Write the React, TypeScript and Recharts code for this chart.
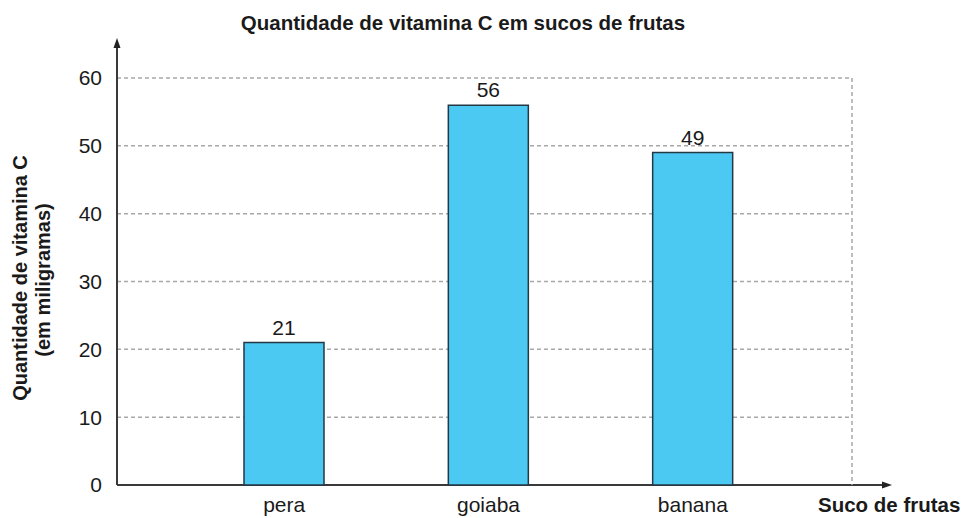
import { Bar, BarChart, CartesianGrid, LabelList, XAxis, YAxis } from "recharts";

const sucos = ["pera", "goiaba", "banana"];
const vitaminaC = [21, 56, 49];
const yTicks = [0, 10, 20, 30, 40, 50, 60];

const data = sucos.map((suco, i) => ({ suco, valor: vitaminaC[i] }));

const FONT = "'Liberation Sans', Arial, sans-serif";
const W = 969;
const H = 518;
// margens escolhidas para a area do grafico ficar entre x 117..852 e y 78..485
const LEFT = 117;
const RIGHT = 852;
const TOP = 78;
const BOTTOM = 485;
const TXT = "#1a1a1a";

// eixos com setas e textos que ficam fora da area do grafico
function Extras() {
  return (
    <g>
      <line x1={LEFT} y1={BOTTOM} x2={LEFT} y2={46} stroke="#3a3a3a" strokeWidth={2} />
      <polygon points={`${LEFT - 3.5},48 ${LEFT + 3.5},48 ${LEFT},38`} fill="#222" />
      <line x1={LEFT} y1={BOTTOM} x2={884} y2={BOTTOM} stroke="#3a3a3a" strokeWidth={2} />
      <polygon points={`882,${BOTTOM - 3.5} 882,${BOTTOM + 3.5} 892,${BOTTOM}`} fill="#222" />
      <text
        x={0}
        y={0}
        fontFamily={FONT}
        fontWeight="bold"
        fontSize={20}
        fill={TXT}
        textAnchor="middle"
        transform="translate(27, 278) rotate(-90)"
      >
        Quantidade de vitamina C
      </text>
      <text
        x={0}
        y={0}
        fontFamily={FONT}
        fontWeight="bold"
        fontSize={20}
        fill={TXT}
        textAnchor="middle"
        transform="translate(50, 280) rotate(-90)"
      >
        (em miligramas)
      </text>
      <text x={818} y={512} fontFamily={FONT} fontWeight="bold" fontSize={20.5} fill={TXT}>
        Suco de frutas
      </text>
      <text
        x={463}
        y={30}
        fontFamily={FONT}
        fontWeight="bold"
        fontSize={20.5}
        fill={TXT}
        textAnchor="middle"
      >
        Quantidade de vitamina C em sucos de frutas
      </text>
    </g>
  );
}

export default function App() {
  return (
    <div style={{ position: "absolute", left: 0, top: 0, width: W, height: H, background: "#fff" }}>
      <BarChart
        width={W}
        height={H}
        data={data}
        margin={{ top: TOP, right: W - RIGHT - 1, bottom: 0, left: 0 }}
      >
        <CartesianGrid
          vertical={false}
          stroke="#a8a8a8"
          strokeWidth={1.5}
          strokeDasharray="4 3"
        />
        <XAxis
          dataKey="suco"
          height={H - BOTTOM}
          padding={{ left: 65, right: 57 }}
          axisLine={false}
          tickLine={false}
          tickMargin={6}
          tick={{ fill: TXT, fontSize: 21, fontFamily: FONT }}
        />
        <YAxis
          width={LEFT}
          domain={[0, 60]}
          ticks={yTicks}
          axisLine={false}
          tickLine={false}
          tickMargin={9}
          tick={{ fill: TXT, fontSize: 21, fontFamily: FONT }}
        />
        <YAxis
          yAxisId="direita"
          orientation="right"
          width={1}
          domain={[0, 60]}
          tick={false}
          tickLine={false}
          axisLine={{ stroke: "#a8a8a8", strokeWidth: 1.5, strokeDasharray: "4 3" }}
        />
        <Bar
          dataKey="valor"
          barSize={80}
          fill="#4cc9f3"
          stroke="#233844"
          strokeWidth={1.5}
          isAnimationActive={false}
        >
          <LabelList
            dataKey="valor"
            position="top"
            offset={8}
            fill={TXT}
            fontSize={21}
            fontFamily={FONT}
          />
        </Bar>
        <Extras />
      </BarChart>
    </div>
  );
}
